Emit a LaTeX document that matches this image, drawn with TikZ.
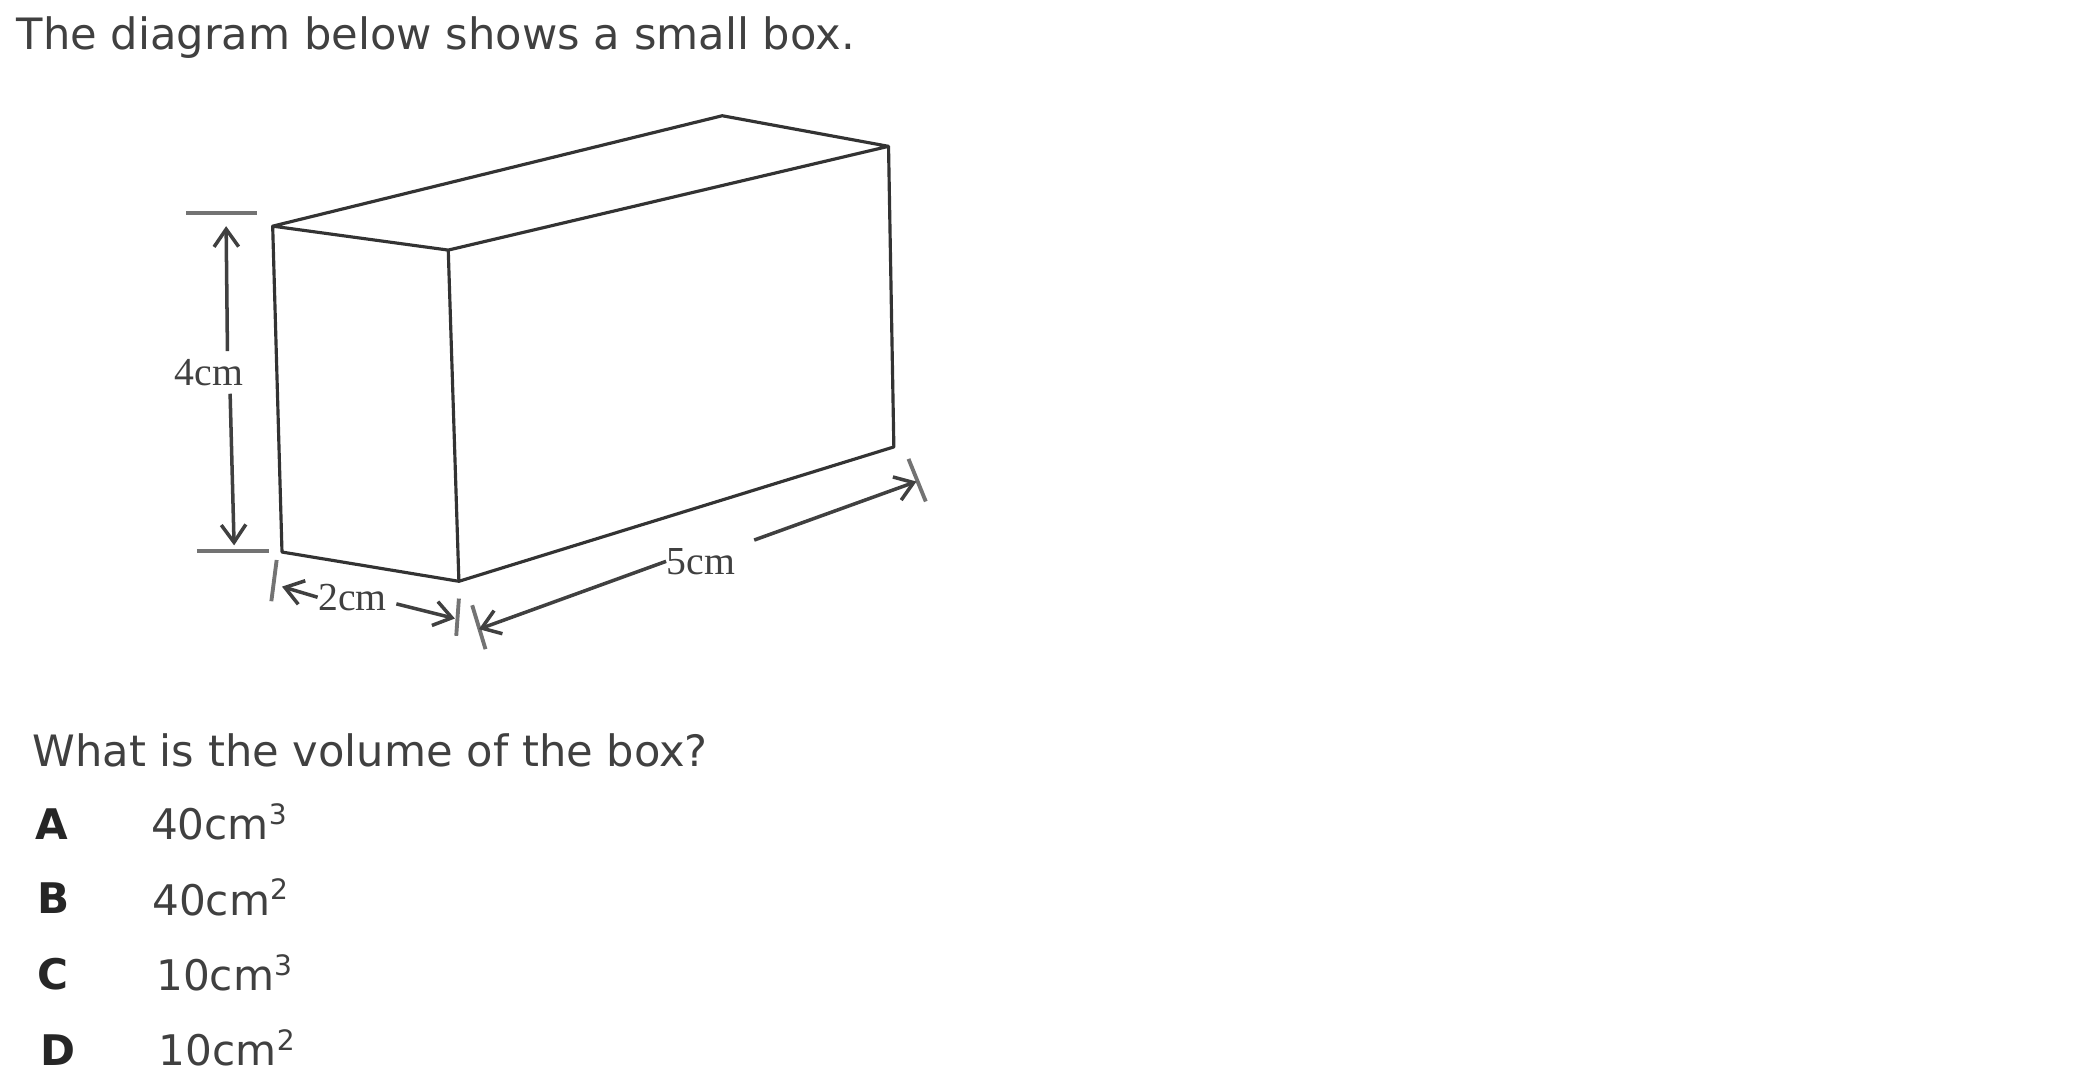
\documentclass[tikz,border=0pt]{standalone}
\usepackage{fontspec}
\setmainfont{DejaVu Sans}
\newfontfamily\labelfont{Liberation Serif}
\usepackage{tikz}
\usetikzlibrary{arrows.meta, positioning}
\definecolor{inkgray}{gray}{0.25}

\begin{document}
\begin{tikzpicture}[x=0.0133cm,y=-0.0133cm,>={Straight Barb[length=5pt,width=7pt]},
        edge/.style={draw=black!80,line width=0.9pt,line join=round},
        tick/.style={draw=black!55,line width=1.1pt},
        dimarrow/.style={draw=black!75,line width=1pt,->},
        dimlabel/.style={font=\labelfont\fontsize{11.3pt}{12pt}\selectfont,text=inkgray,inner sep=0pt},
        question/.style={font=\fontsize{12.3pt}{13pt}\selectfont,text=inkgray,anchor=base west,inner sep=0pt},
        choice/.style={font=\fontsize{12pt}{13pt}\selectfont\bfseries,text=black!85,anchor=base west,inner sep=0pt},
        answer/.style={font=\fontsize{12pt}{13pt}\selectfont,text=inkgray,anchor=base west,inner sep=0pt}]
    \useasboundingbox (0,0) rectangle (1566,810.5);

      % box corners
      \coordinate (a) at (205,170);
      \coordinate (b) at (337,188);
      \coordinate (c) at (668,110);
      \coordinate (d) at (543,87);
      \coordinate (e) at (212,415);
      \coordinate (f) at (345,437);
      \coordinate (g) at (672,336);

      \draw[edge] (a) -- (d) -- (c) -- (b) -- (a) -- (e) -- (f) -- (g) -- (c);
      \draw[edge] (b) -- (f);

      % texts
      \node[question] (title) at (12,37) {The diagram below shows a small box.};
      \node[question] (ask) at (24,576) {What is the volume of the box?};
      \node[choice] (la) at (26,631) {A};
      \node[choice] (lb) at (28,687) {B};
      \node[choice] (lc) at (28,744) {C};
      \node[choice] (ld) at (30,801) {D};
      \node[answer] (aa) at (113,631) {40cm\textsuperscript{3}};
      \node[answer] (ab) at (114,688) {40cm\textsuperscript{2}};
      \node[answer] (ac) at (117,745) {10cm\textsuperscript{3}};
      \node[answer] (ad) at (119,801) {10cm\textsuperscript{2}};

      % dimensions
      \node[dimlabel] (h) at (157,280) {4cm};
      \node[dimlabel] (w) at (265,449) {2cm};
      \node[dimlabel] (l) at (527,422) {5cm};

      \coordinate (h1) at (140,160);
      \coordinate (h2) at (193,160);
      \coordinate (h3) at (148,414);
      \coordinate (h4) at (202,414);
      \coordinate (h5) at (170,170);
      \coordinate (h6) at (171,264);
      \coordinate (h7) at (173,296);
      \coordinate (h8) at (176,410);
      \draw[tick] (h1) -- (h2);
      \draw[tick] (h3) -- (h4);
      \draw[dimarrow] (h6) -- (h5);
      \draw[dimarrow] (h7) -- (h8);

      \coordinate (w1) at (208,421);
      \coordinate (w2) at (204,452);
      \coordinate (w3) at (345,450);
      \coordinate (w4) at (343,478);
      \coordinate (w5) at (298,454);
      \coordinate (w6) at (342,465);
      \coordinate (w7) at (212,441);
      \draw[tick] (w1) -- (w2);
      \draw[tick] (w3) -- (w4);
      \draw[dimarrow] (w.west) -- (w7);
      \draw[dimarrow] (w5) -- (w6);

      \coordinate (l1) at (355,455);
      \coordinate (l2) at (365,488);
      \coordinate (l3) at (683,345);
      \coordinate (l4) at (696,377);
      \coordinate (l5) at (360,473);
      \coordinate (l6) at (567,406);
      \coordinate (l7) at (689,362);
      \draw[tick] (l1) -- (l2);
      \draw[tick] (l3) -- (l4);
      \draw[dimarrow] (l.west) -- (l5);
      \draw[dimarrow] (l6) -- (l7);
    \end{tikzpicture}
\end{document}
